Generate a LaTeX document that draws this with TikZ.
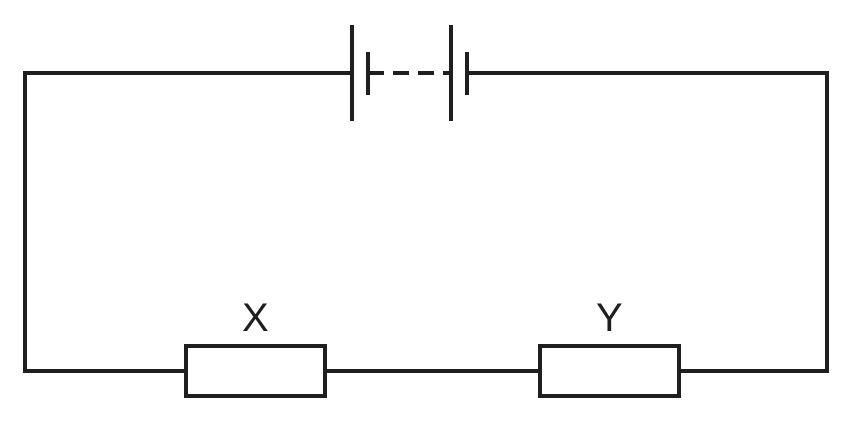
\documentclass[tikz,border=0pt]{standalone}
\usepackage{fontspec}
\setmainfont{Liberation Sans}
\begin{document}
\begin{tikzpicture}[x=1pt,y=-1pt,
  wire/.style={line width=3.5pt,color=black!88},
  res/.style={draw=black!88,line width=3.5pt,minimum width=139pt,minimum height=50pt,inner sep=0pt},
  lbl/.style={font=\fontsize{40}{40}\selectfont,text=black!88}]
\useasboundingbox (0,0) rectangle (852,422);
\node[res] (X) at (255.5,371) {};
\node[res] (Y) at (609.5,371) {};
\node[lbl] (lx) at (256,318) {X};
\node[lbl] (ly) at (610,318) {Y};
\coordinate (b1) at (352,73);
\coordinate (b2) at (467,73);
\coordinate (tl) at (25,73);
\coordinate (tr) at (827,73);
\coordinate (bl) at (25,371);
\coordinate (br) at (827,371);
\draw[wire] (b1) -- (tl) -- (bl) -- (X.west);
\draw[wire] (X.east) -- (Y.west);
\draw[wire] (Y.east) -- (br) -- (tr) -- (b2);
\draw[wire] (352,25) -- (352,121);
\draw[wire] (368,52) -- (368,95);
\draw[wire] (451,25) -- (451,121);
\draw[wire] (467,52) -- (467,95);
\draw[wire,dash pattern=on 16pt off 9pt] (368,73) -- (451,73);
\end{tikzpicture}
\end{document}
